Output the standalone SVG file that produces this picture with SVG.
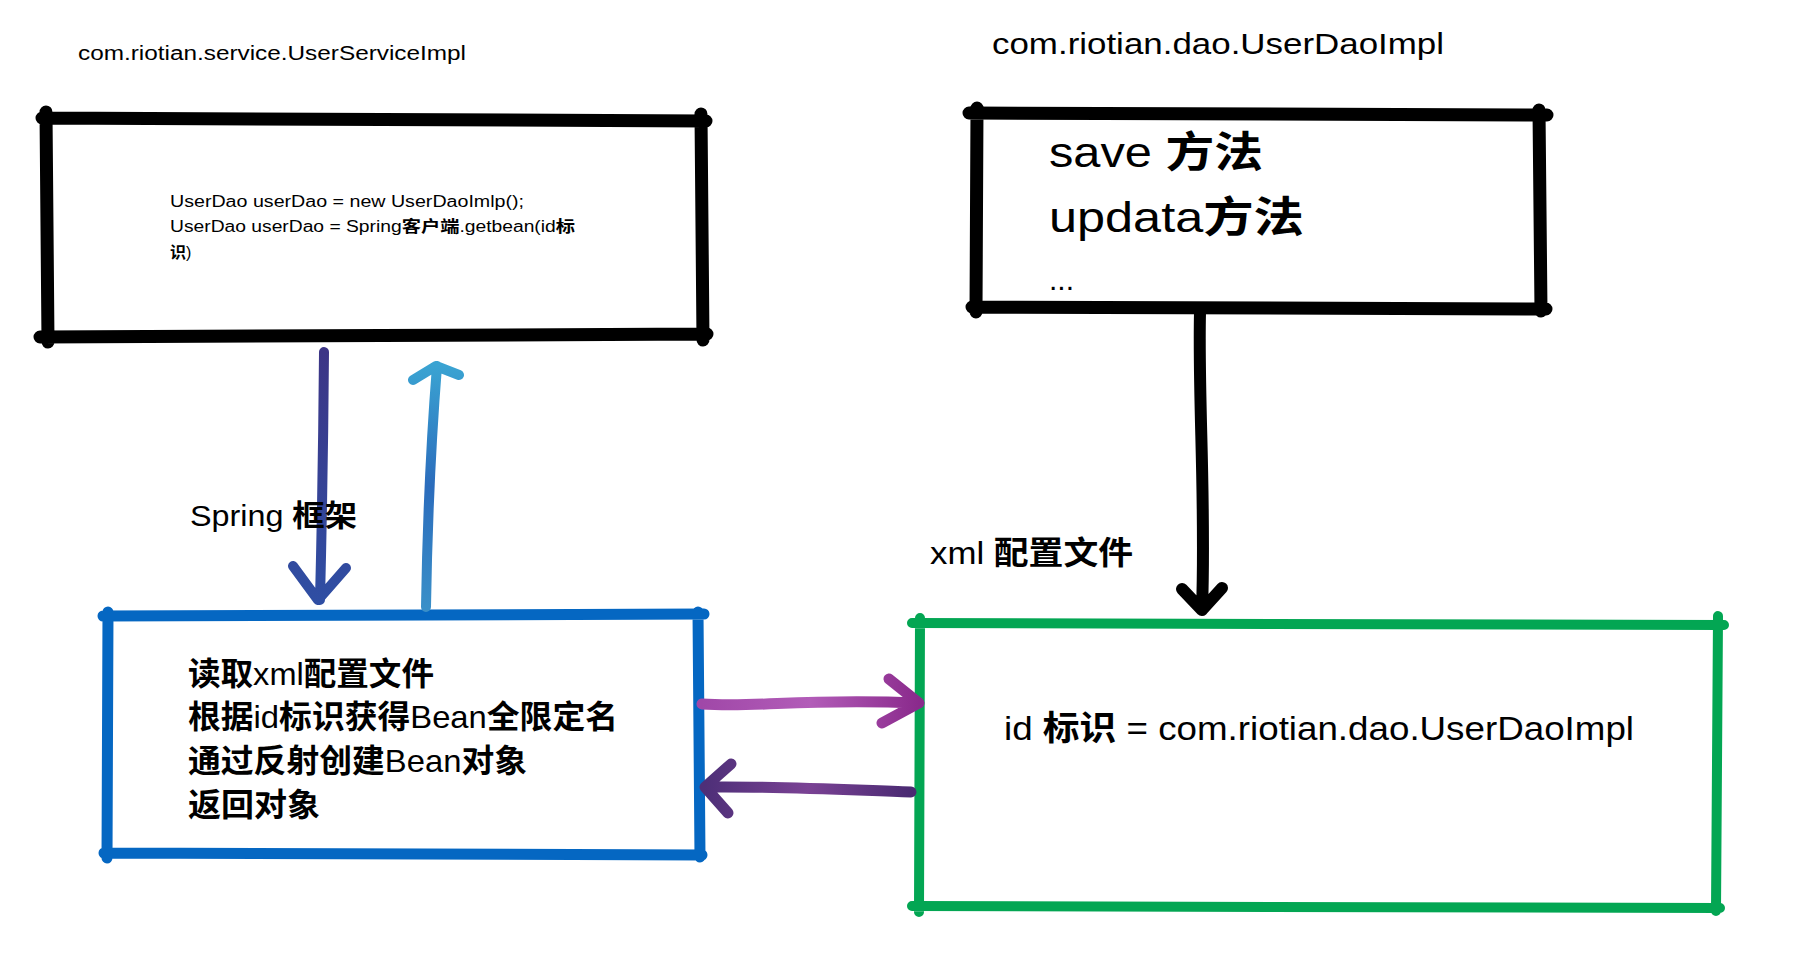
<svg xmlns="http://www.w3.org/2000/svg" width="1804" height="960" viewBox="0 0 1804 960">
<style>
  .hand { font-family: "Liberation Sans", "Noto Sans CJK SC", sans-serif; fill: #000; }
  .cjk { font-family: "Noto Sans CJK SC", sans-serif; font-weight: 700; }
  .frame { fill: none; stroke-linecap: round; stroke-linejoin: round; }
  .blk { stroke: #000; stroke-width: 13; }
  .blue { stroke: #0567c2; stroke-width: 11; }
  .green { stroke: #03a653; stroke-width: 10; }
  .arr { fill: none; stroke-linecap: round; stroke-linejoin: round; }
</style>
<defs>
  <linearGradient id="gDown" x1="0" y1="0" x2="0" y2="1">
    <stop offset="0" stop-color="#3c3586"/>
    <stop offset="1" stop-color="#2f4ea3"/>
  </linearGradient>
  <linearGradient id="gUp" x1="0" y1="1" x2="0" y2="0">
    <stop offset="0" stop-color="#3a8fc8"/>
    <stop offset="0.5" stop-color="#2b6cbc"/>
    <stop offset="1" stop-color="#3aa3d2"/>
  </linearGradient>
  <linearGradient id="gRight" x1="0" y1="0" x2="1" y2="0">
    <stop offset="0" stop-color="#a048a8"/>
    <stop offset="0.5" stop-color="#b25cb8"/>
    <stop offset="1" stop-color="#8a2a8c"/>
  </linearGradient>
  <linearGradient id="gLeft" x1="1" y1="0" x2="0" y2="0">
    <stop offset="0" stop-color="#4a2a72"/>
    <stop offset="0.5" stop-color="#7a4294"/>
    <stop offset="1" stop-color="#4e2f78"/>
  </linearGradient>
</defs>
<rect x="0" y="0" width="1804" height="960" fill="#fff"/>

<g id="title-service">
  <text class="hand" x="78" y="60" font-size="20" textLength="388" lengthAdjust="spacingAndGlyphs">com.riotian.service.UserServiceImpl</text>
</g>

<g id="node-service">
  <path class="frame blk" d="M42,118 L706,121 M701,114 L703,340 M40,337 L707,334 M46,112 L48,342"/>
  <text class="hand" x="170" y="207" font-size="16" textLength="354" lengthAdjust="spacingAndGlyphs">UserDao userDao = new UserDaoImlp();</text>
  <text class="hand" x="170" y="232" font-size="16" textLength="405" lengthAdjust="spacingAndGlyphs">UserDao userDao = Spring<tspan class="cjk">客户端</tspan>.getbean(id<tspan class="cjk">标</tspan></text>
  <text class="hand" x="170" y="258" font-size="16"><tspan class="cjk">识</tspan>)</text>
</g>

<g id="title-dao">
  <text class="hand" x="992" y="54" font-size="30" textLength="452" lengthAdjust="spacingAndGlyphs">com.riotian.dao.UserDaoImpl</text>
</g>

<g id="node-dao">
  <path class="frame blk" d="M969,113 L1547,115 M1539,110 L1541,311 M972,307 L1546,309 M977,108 L976,312"/>
  <text class="hand" x="1049" y="167" font-size="42" textLength="214" lengthAdjust="spacingAndGlyphs">save <tspan class="cjk">方法</tspan></text>
  <text class="hand" x="1049" y="232" font-size="42" textLength="255" lengthAdjust="spacingAndGlyphs">updata<tspan class="cjk">方法</tspan></text>
  <text class="hand" x="1049" y="290" font-size="30">...</text>
</g>

<g id="label-xml">
  <text class="hand" x="930" y="564" font-size="32" textLength="203" lengthAdjust="spacingAndGlyphs">xml <tspan class="cjk">配置文件</tspan></text>
</g>

<g id="node-spring">
  <path class="frame blue" d="M103,616 L704,614 M698,612 L700,857 M104,853 L702,855 M108,612 L107,858"/>
  <text class="hand" x="188" y="685" font-size="32" textLength="246" lengthAdjust="spacingAndGlyphs"><tspan class="cjk">读取</tspan>xml<tspan class="cjk">配置文件</tspan></text>
  <text class="hand" x="188" y="728" font-size="32" textLength="430" lengthAdjust="spacingAndGlyphs"><tspan class="cjk">根据</tspan>id<tspan class="cjk">标识获得</tspan>Bean<tspan class="cjk">全限定名</tspan></text>
  <text class="hand" x="188" y="772" font-size="32" textLength="339" lengthAdjust="spacingAndGlyphs"><tspan class="cjk">通过反射创建</tspan>Bean<tspan class="cjk">对象</tspan></text>
  <text class="hand" x="188" y="816" font-size="32" textLength="132" lengthAdjust="spacingAndGlyphs"><tspan class="cjk">返回对象</tspan></text>
</g>

<g id="node-xml">
  <path class="frame green" d="M912,623 L1724,625 M1718,616 L1716,911 M912,906 L1720,908 M920,618 L919,912"/>
  <text class="hand" x="1004" y="740" font-size="34" textLength="630" lengthAdjust="spacingAndGlyphs">id <tspan class="cjk">标识</tspan> = com.riotian.dao.UserDaoImpl</text>
</g>

<g id="connectors">
  <path class="arr" stroke="url(#gDown)" stroke-width="10" d="M324,352 Q323,480 320,600 M293,566 L318,600 L346,568"/>
  <path class="arr" stroke="url(#gUp)" stroke-width="10" d="M426,607 Q428,480 437,366 M413,380 L436,366 L459,375"/>
  <path class="arr" stroke="url(#gRight)" stroke-width="11" d="M702,704 C760,708 800,698 918,703 M889,679 L919,703 L882,723"/>
  <path class="arr" stroke="url(#gLeft)" stroke-width="11" d="M911,792 C850,790 780,786 706,787 M731,764 L705,787 L728,813"/>
  <path class="arr" stroke="#000" stroke-width="12" d="M1200,313 C1198,400 1206,500 1202,610 M1182,589 L1202,610 L1222,588"/>
</g>

<g id="label-spring">
  <text class="hand" x="190" y="526" font-size="30" textLength="167" lengthAdjust="spacingAndGlyphs">Spring <tspan class="cjk">框架</tspan></text>
</g>
</svg>
